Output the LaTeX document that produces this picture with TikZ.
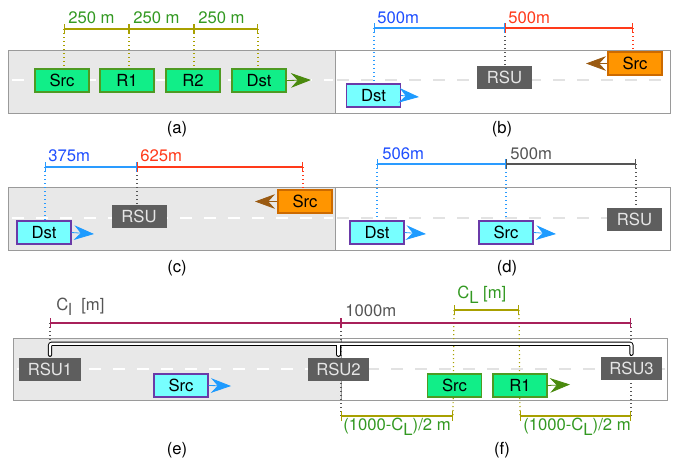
\documentclass[tikz,border=0pt]{standalone}
\usepackage{fontspec}
\setmainfont{TeX Gyre Heros}
\usetikzlibrary{arrows.meta,backgrounds}
\definecolor{bordergray}{HTML}{9A9A9A}
\definecolor{roadgray}{HTML}{E8E8E8}
\definecolor{lanegray}{HTML}{E2E2E2}
\definecolor{vgreenf}{HTML}{11EE88}
\definecolor{vgreenb}{HTML}{4E9A22}
\definecolor{arrgreen}{HTML}{4A8A0E}
\definecolor{cyanf}{HTML}{77FFFF}
\definecolor{purpleb}{HTML}{6A3AA8}
\definecolor{orangef}{HTML}{FF9500}
\definecolor{orangeb}{HTML}{CC6A00}
\definecolor{arrbrown}{HTML}{9A5A12}
\definecolor{arrblue}{HTML}{1E9BFF}
\definecolor{rsufill}{HTML}{5E5E5E}
\definecolor{rsutext}{HTML}{E6E6E6}
\definecolor{olivec}{HTML}{A8A000}
\definecolor{greentext}{HTML}{339922}
\definecolor{bluetext}{HTML}{1F4FFF}
\definecolor{blueline}{HTML}{2A9BFF}
\definecolor{redc}{HTML}{FF3A1A}
\definecolor{darkc}{HTML}{555555}
\definecolor{maroonc}{HTML}{A8205A}
\tikzset{
  panel/.style={draw=bordergray, line width=0.75pt},
  vbox/.style={line width=0.9pt, minimum width=40.5pt, minimum height=17.25pt, inner sep=0pt},
  vgreen/.style={vbox, draw=vgreenb, fill=vgreenf},
  vcyan/.style={vbox, draw=purpleb, fill=cyanf},
  vorange/.style={vbox, draw=orangeb, fill=orangef},
  rsu/.style={fill=rsufill, text=rsutext, minimum width=41.25pt, minimum height=17.25pt, inner sep=0pt},
  rsuw/.style={rsu, minimum width=46pt},
  dim/.style={line width=0.9pt, {Bar[width=7.5pt]}-{Bar[width=7.5pt]}},
  guide/.style={line width=0.9pt, dash pattern=on 0.9pt off 2.1pt},
  lane/.style={line width=2.2pt, dash pattern=on 9pt off 9pt},
  mv/.style={line width=0.6pt, -{Stealth[length=15pt,width=11pt,inset=5pt]}},
  lbl/.style={anchor=base west, inner sep=0pt},
  capt/.style={anchor=base, inner sep=0pt},
  pipeo/.style={line width=3.2pt, black, line cap=round, rounded corners=1.5pt},
  pipei/.style={line width=1.8pt, white, line cap=round, rounded corners=1.5pt},
}
\begin{document}
\begin{tikzpicture}[x=0.75pt, y=-0.75pt, font=\fontsize{12.5}{14}\selectfont]
\useasboundingbox (0,0) rectangle (675,458);

% ---------- (a) ----------
\node[vgreen] (srcA) at (62,80.5) {Src};
\node[vgreen] (r1A) at (127,80.5) {R1};
\node[vgreen] (r2A) at (193,80.5) {R2};
\node[vgreen] (dstA) at (259,80.5) {Dst};
\coordinate (a0) at (64,29);
\coordinate (a1) at (129,29);
\coordinate (a2) at (194,29);
\coordinate (a3) at (258,29);
\coordinate (aT) at (311,80);
\draw[mv, arrgreen] (dstA.east) -- (aT);
\draw[dim, olivec] (a0) -- (a1);
\draw[dim, olivec] (a1) -- (a2);
\draw[dim, olivec] (a2) -- (a3);
\node[lbl, text=greentext] (la1) at (68,23) {250 m};
\node[lbl, text=greentext] (la2) at (133,23) {250 m};
\node[lbl, text=greentext] (la3) at (198,23) {250 m};
\node[capt] (capA) at (177,133) {(a)};

% ---------- (b) ----------
\node[rsu] (rsuB) at (504.5,77.5) {RSU};
\node[vcyan] (dstB) at (373.5,95.5) {Dst};
\node[vorange] (srcB) at (635,63.5) {Src};
\coordinate (b0) at (374,28);
\coordinate (b1) at (505,28);
\coordinate (b2) at (633,28);
\coordinate (bT1) at (419,97);
\coordinate (bT2) at (586,63.5);
\draw[mv, arrblue] (dstB.east) -- (bT1);
\draw[mv, arrbrown] (srcB.west) -- (bT2);
\draw[dim, blueline] (b0) -- (b1);
\draw[dim, redc] (b1) -- (b2);
\node[lbl, text=bluetext] (lb1) at (377,23) {500m};
\node[lbl, text=redc] (lb2) at (508,23) {500m};
\node[capt] (capB) at (502,133) {(b)};

% ---------- (c) ----------
\node[rsu] (rsuC) at (139,216.5) {RSU};
\node[vcyan] (dstC) at (44,232.5) {Dst};
\node[vorange] (srcC) at (305,201.5) {Src};
\coordinate (c0) at (45,167);
\coordinate (c1) at (137,167);
\coordinate (c2) at (303,167);
\coordinate (cT1) at (94,234);
\coordinate (cT2) at (255,201.5);
\draw[mv, arrblue] (dstC.east) -- (cT1);
\draw[mv, arrbrown] (srcC.west) -- (cT2);
\draw[dim, blueline] (c0) -- (c1);
\draw[dim, redc] (c1) -- (c2);
\node[lbl, text=bluetext] (lc1) at (48,161) {375m};
\node[lbl, text=redc] (lc2) at (140,161) {625m};
\node[capt] (capC) at (177,272) {(c)};

% ---------- (d) ----------
\node[vcyan] (dstD) at (377,232.5) {Dst};
\node[vcyan] (srcD) at (506,232.5) {Src};
\node[rsu] (rsuD) at (634.5,219.5) {RSU};
\coordinate (d0) at (377,164);
\coordinate (d1) at (506,164);
\coordinate (d2) at (636,164);
\coordinate (dT1) at (426,234);
\coordinate (dT2) at (556,234);
\draw[mv, arrblue] (dstD.east) -- (dT1);
\draw[mv, arrblue] (srcD.east) -- (dT2);
\draw[dim, blueline] (d0) -- (d1);
\draw[dim, darkc] (d1) -- (d2);
\node[lbl, text=bluetext] (ld1) at (382,159) {506m};
\node[lbl, text=darkc] (ld2) at (510,159) {500m};
\node[capt] (capD) at (507,272) {(d)};

% ---------- (e) / (f) ----------
\node[rsuw] (rsu1) at (50,369.5) {RSU1};
\node[rsuw] (rsu2) at (338.5,369.5) {RSU2};
\node[rsuw] (rsu3) at (631.5,368.5) {RSU3};
\node[vcyan] (srcE) at (181,385.5) {Src};
\node[vgreen] (srcF) at (454.5,385.5) {Src};
\node[vgreen] (r1F) at (520,385.5) {R1};
\coordinate (e0) at (50,323);
\coordinate (e1) at (341,323);
\coordinate (e2) at (631,323);
\coordinate (k0) at (454,310);
\coordinate (k1) at (519,310);
\coordinate (l0) at (341,416);
\coordinate (l1) at (453,416);
\coordinate (m0) at (520,416);
\coordinate (m1) at (631,416);
\coordinate (eT) at (231,386);
\coordinate (fT) at (570,384.5);
\draw[mv, arrblue] (srcE.east) -- (eT);
\draw[mv, arrgreen] (r1F.east) -- (fT);
\draw[dim, maroonc] (e0) -- (e1);
\draw[dim, maroonc] (e1) -- (e2);
\draw[dim, olivec] (k0) -- (k1);
\draw[dim, olivec] (l0) -- (l1);
\draw[dim, olivec] (m0) -- (m1);
\node[lbl, text=darkc] (le1) at (56,310) {C\raisebox{-4pt}{l}\ \ [m]};
\node[lbl, text=darkc] (le2) at (345,316) {1000m};
\node[lbl, text=greentext] (lf1) at (457,298) {C\raisebox{-4pt}{L} [m]};
\node[lbl, text=greentext] (lf2) at (343,430) {(1000-C\raisebox{-4pt}{L})/2 m};
\node[lbl, text=greentext] (lf3) at (523,430) {(1000-C\raisebox{-4pt}{L})/2 m};
\node[capt] (capE) at (177,454) {(e)};
\node[capt] (capF) at (502,454) {(f)};

\begin{scope}[on background layer]
  % roads
  \fill[roadgray] (8,50) rectangle (335,113);
  \draw[panel] (8,50) rectangle (335,113);
  \draw[panel] (335,50) rectangle (670,113);
  \fill[roadgray] (8,187) rectangle (335,250);
  \draw[panel] (8,187) rectangle (335,250);
  \draw[panel] (335,187) rectangle (670,250);
  \fill[roadgray] (13,338) rectangle (341,400);
  \draw[panel] (13,338) rectangle (667,400);
  \draw[bordergray, line width=0.5pt] (341,338) -- (341,400);
  % lane markings
  \draw[lane, white] (12,80) -- (333,80);
  \draw[lane, lanegray] (337,80) -- (668,80);
  \draw[lane, white] (12,218) -- (333,218);
  \draw[lane, lanegray] (337,218) -- (668,218);
  \draw[lane, white] (17,369) -- (339,369);
  \draw[lane, lanegray] (343,369) -- (665,369);
  % guides (a)
  \draw[guide, olivec] (a0) -- (a0 |- srcA.north);
  \draw[guide, olivec] (a1) -- (a1 |- r1A.north);
  \draw[guide, olivec] (a2) -- (a2 |- r2A.north);
  \draw[guide, olivec] (a3) -- (a3 |- dstA.north);
  % guides (b)
  \draw[guide, blueline] (b0) -- (b0 |- dstB.north);
  \draw[guide, darkc] (b1) -- (b1 |- rsuB.north);
  \draw[guide, redc] (b2) -- (b2 |- srcB.north);
  % guides (c)
  \draw[guide, blueline] (c0) -- (c0 |- dstC.north);
  \draw[guide, darkc] (c1) -- (c1 |- rsuC.north);
  \draw[guide, redc] (c2) -- (c2 |- srcC.north);
  % guides (d)
  \draw[guide, blueline] (d0) -- (d0 |- dstD.north);
  \draw[guide, blueline] (d1) -- (d1 |- srcD.north);
  \draw[guide, darkc] (d2) -- (d2 |- rsuD.north);
  % guides (e)(f)
  \draw[guide, darkc] (e0) -- (e0 |- rsu1.north);
  \draw[guide, darkc] (e1) -- (l0);
  \draw[guide, darkc] (e2) -- (m1);
  \draw[guide, olivec] (k0) -- (l1);
  \draw[guide, olivec] (k1) -- (m0);
  % backbone pipe
  \draw[pipeo] ([yshift=2.25pt]rsu1.north) |- ([yshift=9.75pt]rsu3.north) -- ([yshift=2.25pt]rsu3.north);
  \draw[pipeo] ([yshift=2.25pt]rsu2.north) -- ([yshift=10pt]rsu2.north);
  \draw[pipei] ([yshift=2.25pt]rsu1.north) |- ([yshift=9.75pt]rsu3.north) -- ([yshift=2.25pt]rsu3.north);
  \draw[pipei] ([yshift=2.25pt]rsu2.north) -- ([yshift=10pt]rsu2.north);
\end{scope}
\end{tikzpicture}
\end{document}
